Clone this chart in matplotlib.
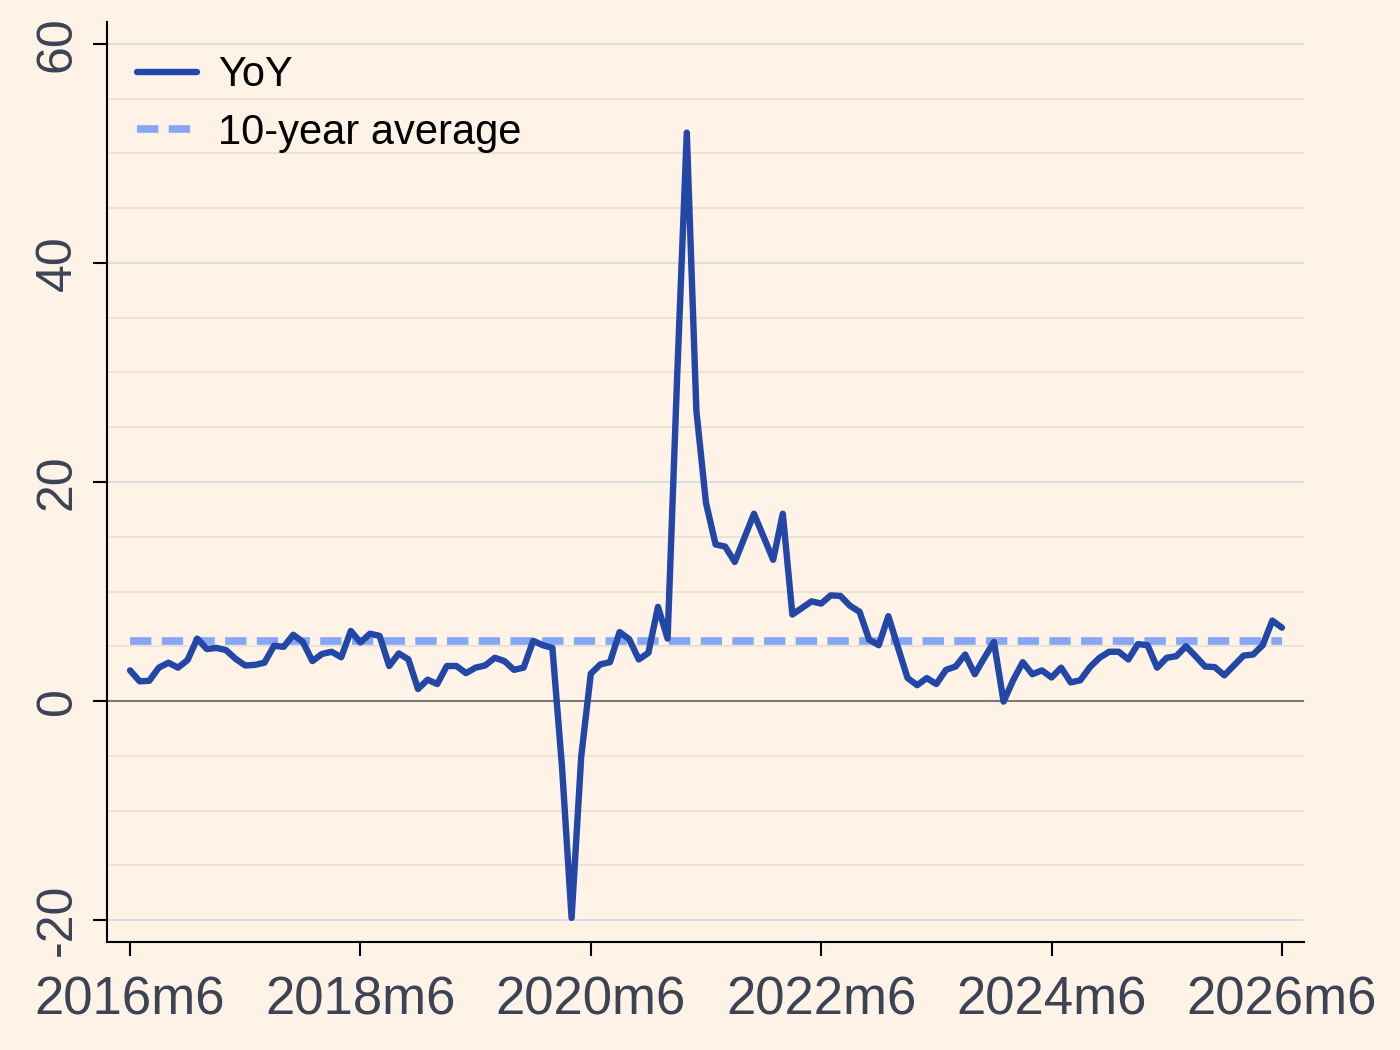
import numpy as np
import pandas as pd
from matplotlib import pyplot as plt

# monthly YoY growth, 2016m6 .. 2026m6
start = '2016-06'
yoy = [2.8, 1.8, 1.85, 3.05, 3.5, 3.05, 3.75, 5.7, 4.75, 4.85,
       4.65, 3.85, 3.25, 3.3, 3.5, 5.05, 4.95, 6.05, 5.4, 3.65,
       4.3, 4.5, 4.0, 6.4, 5.35, 6.15, 5.95, 3.2, 4.35, 3.8,
       1.1, 1.95, 1.55, 3.2, 3.2, 2.55, 3.05, 3.25, 3.95, 3.65,
       2.85, 3.05, 5.5, 5.1, 4.85, -6.0, -19.8, -5.1, 2.5, 3.35,
       3.55, 6.3, 5.65, 3.8, 4.4, 8.6, 5.7, 29.7, 51.9, 26.5,
       18.1, 14.3, 14.1, 12.7, 14.9, 17.1, 15.0, 12.9, 17.1, 7.9,
       8.5, 9.1, 8.9, 9.65, 9.6, 8.7, 8.15, 5.6, 5.1, 7.75,
       4.9, 2.1, 1.45, 2.1, 1.55, 2.85, 3.15, 4.25, 2.45, 3.95,
       5.4, -0.05, 1.9, 3.55, 2.45, 2.8, 2.15, 3.05, 1.7, 1.9,
       3.1, 3.95, 4.5, 4.5, 3.8, 5.2, 5.1, 3.05, 3.95, 4.1,
       5.0, 4.1, 3.15, 3.1, 2.35, 3.25, 4.15, 4.25, 5.1, 7.35,
       6.7]
avg_10y = 5.5

y_ticks = [-20, 0, 20, 40, 60]
tick_every = 24

months = pd.period_range(start, periods=len(yoy), freq='M')
x = np.arange(len(yoy))
tick_pos = x[::tick_every]
tick_labels = [f'{p.year}m{p.month}' for p in months[::tick_every]]

bg = '#fef3e6'
txt = '#3b4354'

plt.rcParams['font.family'] = ['Liberation Sans', 'DejaVu Sans']

fig = plt.figure(figsize=(14, 10.5), dpi=100, facecolor=bg)
ax = fig.add_axes([107 / 1400, 1 - 942 / 1050, (1304 - 107) / 1400, (942 - 22) / 1050])
ax.set_facecolor(bg)

# grid: minor every 5, major every 20, darker zero line
for v in np.arange(-20, 61, 5):
    if v == 0:
        continue
    col = '#d4d9e1' if v % 20 == 0 else '#eadfd0'
    ax.axhline(v, color=col, lw=1.2, zorder=0)
ax.axhline(0, color='#7a7a7a', lw=1.5, zorder=1)

ax.plot(x, [avg_10y] * len(x), color='#85a7f6', lw=5.5, dashes=(2.8, 1.35),
        label='10-year average', zorder=2)
ax.plot(x, yoy, color='#2347a6', lw=4.6, solid_joinstyle='round',
        solid_capstyle='round', label='YoY', zorder=3)

ax.set_xlim(-2.4, 122.3)
ax.set_ylim(-22, 62)

ax.set_yticks(y_ticks)
ax.set_yticklabels([str(t) for t in y_ticks], rotation=90, va='center')
ax.set_xticks(tick_pos)
ax.set_xticklabels(tick_labels)
ax.tick_params(axis='both', labelsize=36, colors='black', labelcolor=txt,
               length=10, width=1.5, pad=9)
ax.tick_params(axis='x', labelsize=38, pad=14)

for s in ['top', 'right']:
    ax.spines[s].set_visible(False)
for s in ['left', 'bottom']:
    ax.spines[s].set_linewidth(1.5)

h, l = ax.get_legend_handles_labels()
ax.legend(h[::-1], l[::-1], loc='upper left', bbox_to_anchor=(-0.003, 1.0),
          frameon=False, fontsize=30, handlelength=1.45, handletextpad=0.5,
          labelspacing=0.42, borderaxespad=0.5, borderpad=0.3)

plt.savefig('out.png', facecolor=bg)
